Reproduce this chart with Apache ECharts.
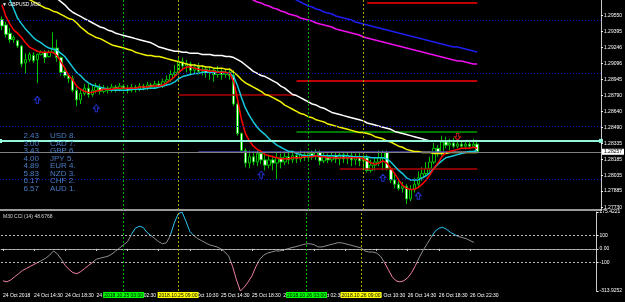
<!DOCTYPE html>
<html>
<head>
<meta charset="utf-8">
<style>
  html, body { margin: 0; padding: 0; background: #000; }
  #chart { width: 625px; height: 302px; }
</style>
<script src="https://cdn.jsdelivr.net/npm/echarts@6/dist/echarts.min.js"></script>
</head>
<body>
<div id="chart"></div>
<script>
// GBPUSD M30 with moving averages and a CCI(14) pane

var timeLabels = ['24 Oct 2018', '24 Oct 14:30', '24 Oct 18:30', '24 Oct 22:30', '25 Oct 02:30', '25 Oct 06:30',
  '25 Oct 10:30', '25 Oct 14:30', '25 Oct 18:30', '25 Oct 22:30', '26 Oct 02:30', '26 Oct 06:30',
  '26 Oct 10:30', '26 Oct 14:30', '26 Oct 18:30', '26 Oct 22:30'];

var opens = [1.2951,1.2946,1.2938,1.2932,1.2931,1.2926,1.2910,1.2913,1.2917,1.2913,
  1.2918,1.2920,1.2916,1.2920,1.2924,1.2915,1.2902,1.2898,1.2895,1.2884,
  1.2875,1.2881,1.2886,1.2880,1.2884,1.2887,1.2883,1.2886,1.2884,1.2887,
  1.2885,1.2888,1.2886,1.2884,1.2887,1.2885,1.2888,1.2886,1.2889,1.2887,
  1.2890,1.2888,1.2892,1.2894,1.2899,1.2901,1.2911,1.2907,1.2909,1.2903,
  1.2906,1.2902,1.2904,1.2901,1.2903,1.2899,1.2902,1.2899,1.2901,1.2898,
  1.2871,1.2843,1.2827,1.2815,1.2821,1.2816,1.2824,1.2818,1.2813,1.2818,
  1.2815,1.2820,1.2816,1.2821,1.2818,1.2822,1.2819,1.2823,1.2820,1.2824,
  1.2821,1.2825,1.2817,1.2821,1.2818,1.2822,1.2819,1.2823,1.2819,1.2822,
  1.2818,1.2821,1.2817,1.2820,1.2808,1.2813,1.2816,1.2820,1.2825,1.2810,
  1.2799,1.2795,1.2791,1.2793,1.2781,1.2790,1.2795,1.2801,1.2805,1.2810,
  1.2816,1.2829,1.2824,1.2835,1.2832,1.2834,1.2831,1.2833,1.2831,1.2833,
  1.2831,1.2833];
var closes = [1.2945,1.2937,1.2932,1.2934,1.2926,1.2909,1.2913,1.2918,1.2912,1.2918,
  1.2920,1.2915,1.2920,1.2924,1.2915,1.2901,1.2898,1.2895,1.2884,1.2875,
  1.2881,1.2886,1.2880,1.2884,1.2887,1.2883,1.2886,1.2884,1.2887,1.2885,
  1.2888,1.2886,1.2884,1.2887,1.2885,1.2888,1.2886,1.2889,1.2887,1.2890,
  1.2888,1.2892,1.2894,1.2899,1.2901,1.2911,1.2907,1.2909,1.2903,1.2906,
  1.2902,1.2904,1.2901,1.2903,1.2899,1.2902,1.2899,1.2901,1.2898,1.2871,
  1.2843,1.2827,1.2815,1.2821,1.2816,1.2824,1.2818,1.2813,1.2818,1.2815,
  1.2820,1.2816,1.2821,1.2818,1.2822,1.2819,1.2823,1.2820,1.2824,1.2821,
  1.2825,1.2817,1.2821,1.2818,1.2822,1.2819,1.2823,1.2819,1.2822,1.2818,
  1.2821,1.2817,1.2820,1.2808,1.2813,1.2816,1.2820,1.2825,1.2810,1.2799,
  1.2795,1.2791,1.2793,1.2781,1.2790,1.2795,1.2801,1.2805,1.2810,1.2816,
  1.2829,1.2824,1.2835,1.2832,1.2834,1.2831,1.2833,1.2831,1.2833,1.2831,
  1.2833,1.28257];
var lows = [1.2941,1.2934,1.2929,1.2929,1.2924,1.2906,1.2900,1.2911,1.2910,1.2891,
  1.2917,1.2910,1.2915,1.2919,1.2911,1.2898,1.2896,1.2891,1.2882,1.2869,
  1.2871,1.2879,1.2877,1.2878,1.2881,1.2880,1.2881,1.2881,1.2882,1.2882,
  1.2883,1.2883,1.2881,1.2882,1.2882,1.2883,1.2884,1.2884,1.2885,1.2885,
  1.2886,1.2886,1.2889,1.2892,1.2896,1.2899,1.2903,1.2901,1.2899,1.2900,
  1.2899,1.2898,1.2896,1.2894,1.2892,1.2896,1.2894,1.2896,1.2894,1.2869,
  1.2841,1.2826,1.2811,1.2810,1.2813,1.2812,1.2814,1.2808,1.2810,1.2808,
  1.2799,1.2810,1.2813,1.2814,1.2815,1.2815,1.2816,1.2817,1.2816,1.2818,
  1.2818,1.2813,1.2815,1.2815,1.2816,1.2815,1.2813,1.2815,1.2814,1.2812,
  1.2813,1.2812,1.2808,1.2806,1.2806,1.2808,1.2812,1.2808,1.2808,1.2796,
  1.2791,1.2789,1.2787,1.2776,1.2779,1.2787,1.2792,1.2798,1.2802,1.2807,
  1.2814,1.2821,1.2822,1.2829,1.2827,1.2829,1.2829,1.2829,1.2828,1.2829,
  1.2830,1.2825];
var highs = [1.2954,1.2949,1.2943,1.2936,1.2932,1.2927,1.2919,1.2920,1.2920,1.2919,
  1.2922,1.2922,1.2922,1.2939,1.2932,1.2916,1.2906,1.2899,1.2898,1.2887,
  1.2884,1.2890,1.2890,1.2888,1.2891,1.2890,1.2889,1.2888,1.2890,1.2889,
  1.2891,1.2890,1.2889,1.2890,1.2889,1.2891,1.2890,1.2892,1.2891,1.2893,
  1.2893,1.2895,1.2898,1.2903,1.2908,1.2916,1.2915,1.2913,1.2911,1.2909,
  1.2910,1.2908,1.2907,1.2906,1.2905,1.2907,1.2905,1.2904,1.2905,1.2903,
  1.2873,1.2844,1.2829,1.2827,1.2826,1.2827,1.2826,1.2823,1.2823,1.2822,
  1.2825,1.2824,1.2826,1.2825,1.2826,1.2825,1.2827,1.2826,1.2826,1.2827,
  1.2828,1.2827,1.2826,1.2824,1.2826,1.2825,1.2826,1.2826,1.2825,1.2826,
  1.2824,1.2826,1.2823,1.2823,1.2818,1.2820,1.2827,1.2827,1.2827,1.2812,
  1.2804,1.2801,1.2797,1.2795,1.2794,1.2801,1.2807,1.2811,1.2816,1.2821,
  1.2834,1.2832,1.2841,1.2840,1.2838,1.2839,1.2836,1.2836,1.2837,1.2836,
  1.2838,1.2837];

var maRed = [1.2965,1.2954,1.2947,1.2941,1.2938,1.2934,1.2929,1.2925,1.2923,1.2921,
  1.2920,1.2920,1.2920,1.2920,1.2917,1.2911,1.2905,1.2898,1.2894,1.2888,
  1.2885,1.2883,1.2882,1.2882,1.2883,1.2884,1.2885,1.2885,1.2885,1.2886,
  1.2886,1.2886,1.2886,1.2886,1.2886,1.2887,1.2887,1.2887,1.2888,1.2888,
  1.2888,1.2889,1.2891,1.2894,1.2897,1.2901,1.2904,1.2906,1.2906,1.2905,
  1.2904,1.2903,1.2903,1.2902,1.2902,1.2901,1.2901,1.2901,1.2900,1.2892,
  1.2875,1.2856,1.2843,1.2836,1.2831,1.2828,1.2826,1.2823,1.2822,1.2821,
  1.2820,1.2819,1.2819,1.2819,1.2820,1.2820,1.2820,1.2821,1.2821,1.2821,
  1.2822,1.2821,1.2821,1.2820,1.2820,1.2820,1.2820,1.2820,1.2820,1.2820,
  1.2820,1.2820,1.2819,1.2817,1.2815,1.2814,1.2815,1.2817,1.2815,1.2810,
  1.2805,1.2799,1.2794,1.2791,1.2790,1.2790,1.2792,1.2795,1.2799,1.2804,
  1.2810,1.2815,1.2821,1.2825,1.2826,1.2827,1.2828,1.2829,1.2829,1.2829,
  1.2830,1.2829];
var maAqua = [1.2987,1.2978,1.2970,1.2961,1.2952,1.2947,1.2942,1.2938,1.2934,1.2931,
  1.2929,1.2926,1.2924,1.2923,1.2922,1.2919,1.2916,1.2911,1.2906,1.2901,
  1.2898,1.2894,1.2891,1.2889,1.2888,1.2887,1.2886,1.2885,1.2884,1.2884,
  1.2884,1.2884,1.2884,1.2885,1.2885,1.2885,1.2885,1.2886,1.2886,1.2886,
  1.2887,1.2888,1.2889,1.2890,1.2892,1.2895,1.2897,1.2898,1.2899,1.2900,
  1.2900,1.2901,1.2901,1.2901,1.2901,1.2901,1.2901,1.2901,1.2900,1.2897,
  1.2888,1.2877,1.2867,1.2860,1.2854,1.2849,1.2845,1.2842,1.2838,1.2835,
  1.2832,1.2830,1.2828,1.2826,1.2826,1.2824,1.2823,1.2822,1.2822,1.2822,
  1.2822,1.2822,1.2822,1.2822,1.2822,1.2822,1.2822,1.2822,1.2822,1.2821,
  1.2821,1.2821,1.2821,1.2821,1.2820,1.2820,1.2820,1.2820,1.2819,1.2816,
  1.2812,1.2808,1.2805,1.2801,1.2799,1.2799,1.2799,1.2801,1.2803,1.2806,
  1.2810,1.2814,1.2817,1.2820,1.2821,1.2822,1.2823,1.2824,1.2825,1.2826,
  1.2826,1.2827];
var maYellow = [1.2979,1.2977,1.2975,1.2974,1.2973,1.2972,1.2971,1.2970,1.2968,1.2966,
  1.2964,1.2962,1.2961,1.2959,1.2958,1.2956,1.2954,1.2952,1.2951,1.2948,
  1.2944,1.2941,1.2938,1.2936,1.2934,1.2933,1.2931,1.2929,1.2927,1.2926,
  1.2925,1.2924,1.2923,1.2922,1.2920,1.2919,1.2918,1.2917,1.2917,1.2916,
  1.2916,1.2915,1.2914,1.2913,1.2912,1.2911,1.2910,1.2909,1.2908,1.2908,
  1.2907,1.2907,1.2906,1.2906,1.2905,1.2905,1.2905,1.2904,1.2904,1.2901,
  1.2898,1.2894,1.2891,1.2889,1.2887,1.2885,1.2883,1.2880,1.2879,1.2877,
  1.2875,1.2873,1.2870,1.2868,1.2866,1.2864,1.2862,1.2861,1.2859,1.2858,
  1.2856,1.2855,1.2854,1.2852,1.2851,1.2850,1.2849,1.2848,1.2847,1.2846,
  1.2845,1.2844,1.2844,1.2843,1.2842,1.2840,1.2839,1.2838,1.2836,1.2835,
  1.2833,1.2831,1.2830,1.2828,1.2827,1.2826,1.2826,1.2825,1.2825,1.2825,
  1.2824,1.2824,1.2824,1.2824,1.2825,1.2825,1.2825,1.2825,1.2825,1.2825,
  1.2825,1.2825];
// white MA is above the window before bar 14
var maWhiteStart = 14;
var maWhite = [1.2971,1.2968,1.2965,1.2961,1.2958,1.2956,1.2954,1.2952,1.2950,1.2948,
  1.2946,1.2944,1.2943,1.2941,1.2940,1.2938,1.2937,1.2936,1.2935,1.2934,
  1.2933,1.2932,1.2931,1.2930,1.2929,1.2927,1.2925,1.2924,1.2923,1.2922,
  1.2921,1.2921,1.2920,1.2920,1.2919,1.2919,1.2919,1.2918,1.2918,1.2918,
  1.2917,1.2917,1.2917,1.2916,1.2916,1.2915,1.2913,1.2911,1.2908,1.2905,
  1.2902,1.2900,1.2898,1.2897,1.2895,1.2893,1.2891,1.2888,1.2886,1.2883,
  1.2880,1.2879,1.2877,1.2875,1.2873,1.2871,1.2870,1.2868,1.2867,1.2865,
  1.2863,1.2862,1.2861,1.2860,1.2859,1.2858,1.2857,1.2856,1.2855,1.2853,
  1.2852,1.2851,1.2850,1.2849,1.2848,1.2847,1.2845,1.2844,1.2843,1.2842,
  1.2841,1.2840,1.2839,1.2838,1.2837,
  1.2836,1.2836,1.2836,1.2836,1.2836,1.2836,1.2836,1.2836,1.2836,1.2836,1.2836,1.2836,1.2836];
var maBlueStart = 74;
var maBlue = [1.29715,1.29696,1.29677,1.29658,1.29639,1.29630,1.29611,1.29601,1.29582,1.29573,
  1.29563,1.29544,1.29535,1.29525,1.29516,1.29506,1.29487,1.29478,1.29468,1.29459,
  1.29450,1.29440,1.29431,1.29421,1.29412,1.29402,1.29393,1.29383,1.29374,1.29364,
  1.29355,1.29345,1.29336,1.29326,1.29317,1.29307,1.29298,1.29288,1.29279,1.29269,
  1.29260,1.29250,1.29250,1.29241,1.29231,1.29222,1.29212,1.29203];
var maMagentaStart = 63;
var maMagenta = [1.29715,1.29696,1.29677,1.29668,1.29649,1.29639,1.29620,1.29611,1.29592,1.29582,
  1.29563,1.29554,1.29544,1.29525,1.29516,1.29506,1.29497,1.29478,1.29468,1.29459,
  1.29450,1.29440,1.29421,1.29412,1.29402,1.29393,1.29383,1.29374,1.29364,1.29345,
  1.29336,1.29326,1.29317,1.29307,1.29298,1.29288,1.29279,1.29269,1.29260,1.29250,
  1.29241,1.29231,1.29222,1.29212,1.29203,1.29194,1.29184,1.29175,1.29165,1.29156,
  1.29146,1.29137,1.29127,1.29118,1.29118,1.29108,1.29099,1.29089,1.29089];

var cci = [-238,-246,-231,-208,-185,-161,-146,-131,-115,-100,
  -85,-69,-46,-15,-38,-77,-123,-154,-177,-185,
  -169,-146,-123,-100,-77,-69,-62,-54,-38,-15,
  8,31,54,108,154,169,161,123,100,77,
  54,38,46,100,192,261,275.4221,208,131,100,
  77,62,46,31,23,15,0,-23,-54,-131,
  -231,-313.9252,-285,-246,-200,-131,-77,-46,-31,-23,
  -15,-15,-8,0,8,15,23,31,38,38,
  31,15,15,23,31,38,46,46,38,31,
  23,15,8,-15,-23,-23,-31,-54,-100,-154,
  -208,-238,-246,-238,-215,-177,-123,-62,-8,38,
  85,131,154,161,146,123,108,92,85,77,
  62,48.6768];

var priceTicks = [1.29550, 1.29395, 1.29246, 1.29096, 1.28945, 1.28790, 1.28640,
  1.28490, 1.28335, 1.28185, 1.28035, 1.27885, 1.27730];
var cciTicks = [275.4221, 100, 0, -100, -313.9252];
var cciTickText = ['275.4221', '100', '0.00', '-100', '-313.9252'];
var roundLevels = [1.2950, 1.2900, 1.2850, 1.2800];
var bid = 1.28257;
var handleLevel = 1.2836;
// [first bar, last bar, price]
var levelLines = [[93, 121, 1.2967], [75, 121, 1.28926], [45, 75, 1.28794], [75, 121, 1.2845], [50, 121, 1.28257], [86, 121, 1.2810]];
var levelColors = ['#ff0000', '#ff0000', '#b00000', '#007800', '#4848b8', '#b40000'];
var separators = [31, 45, 78, 92];
var separatorText = ['2018.10.25 03:00', '2018.10.25 09:00', '2018.10.26 03:00', '2018.10.26 09:00'];
var upArrows = [[9, 1.2875], [24, 1.2867], [66, 1.2804], [97, 1.2801], [106, 1.2784]];
var downArrows = [[116, 1.2840]];

var strengthVal = ['2.43', '3.00', '3.43', '4.00', '4.89', '5.83', '6.17', '6.57'];
var strengthCcy = ['USD', 'CAD', 'GBP', 'JPY', 'EUR', 'NZD', 'CHF', 'AUD'];
var strengthRank = [8, 7, 6, 5, 4, 3, 2, 1];

[opens, closes, lows, highs, maRed, maAqua, maYellow, cci].forEach(function (a, k) {
  if (a.length !== 122) throw new Error('array ' + k + ' has ' + a.length);
});
if (maWhiteStart + maWhite.length !== 122 || maBlueStart + maBlue.length !== 122 || maMagentaStart + maMagenta.length !== 122) {
  throw new Error('ma length');
}

var N = 153;
var FONT = 'Liberation Sans';
var cats = [];
for (var i = 0; i < N; i++) cats.push(String(i));

function padStart(start, arr) {
  var out = [];
  for (var j = 0; j < start; j++) out.push(null);
  return out.concat(arr);
}

var candles = opens.map(function (o, k) { return [o, closes[k], lows[k], highs[k]]; });

// round-number levels, period separators and the bid line sit behind the candles
var mainLines = [];
roundLevels.forEach(function (v) {
  mainLines.push({ yAxis: v, lineStyle: { color: '#1010c4', type: [1, 2], width: 1 } });
});
separators.forEach(function (s, k) {
  mainLines.push({ xAxis: s, lineStyle: { color: k % 2 ? '#a8a800' : '#00b400', type: [2, 2], width: 1 } });
});
mainLines.push({ yAxis: bid, lineStyle: { color: '#808080', type: 'solid', width: 1 },
  label: { show: true, position: 'end', formatter: bid.toFixed(5), backgroundColor: '#fff', color: '#000',
    fontSize: 5, fontFamily: FONT, padding: [1, 2, 0, 2], distance: 1 } });

// drawn level segments, as a lines series on the price grid
var segData = levelLines.map(function (l, k) {
  return {
    coords: [[l[0], l[2]], [l[1], l[2]]],
    lineStyle: { color: levelColors[k], width: k === 3 ? 2 : 1.6, opacity: 1 }
  };
});

var cciLines = [];
[100, 0, -100].forEach(function (v) {
  cciLines.push({ yAxis: v, lineStyle: { color: '#bdbdbd', type: [2, 2], width: 1 } });
});
separators.forEach(function (s, k) {
  cciLines.push({ xAxis: s, lineStyle: { color: k % 2 ? '#a8a800' : '#00b400', type: [2, 2], width: 1 },
    label: { show: true, position: 'start', formatter: separatorText[k], distance: 1,
      backgroundColor: k % 2 ? '#ffff00' : '#00ff00', color: '#000', fontSize: 5, fontFamily: FONT, padding: [1, 1, 0, 1] } });
});

var graphics = [
  { type: 'text', left: 2, top: 2, z: 100, style: { text: '\u25BC GBPUSD,M30', fill: '#fff', font: '5px ' + FONT } },
  { type: 'text', left: 3, top: 214, z: 100, style: { text: 'M30 CCI (14) 48.6768', fill: '#d8d8d8', font: '5px ' + FONT } }
];
strengthVal.forEach(function (v, k) {
  graphics.push({ type: 'text', x: 39, y: 136 + k * 7.5, z: 100,
    style: { text: v, fill: '#4a7cc4', font: '8px ' + FONT, align: 'right', verticalAlign: 'middle' } });
  graphics.push({ type: 'text', x: 50, y: 136 + k * 7.5, z: 100,
    style: { text: strengthCcy[k] + ' ' + strengthRank[k] + '.', fill: '#4a7cc4', font: '8px ' + FONT, align: 'left', verticalAlign: 'middle' } });
});

var arrowUp = 'path://M5,0 L10,5 L7,5 L7,10 L3,10 L3,5 L0,5 Z';
var arrowDown = 'path://M3,0 L7,0 L7,5 L10,5 L5,10 L0,5 L3,5 Z';

var chart = echarts.init(document.getElementById('chart'));
chart.setOption({
  backgroundColor: '#000',
  animation: false,
  graphic: graphics,
  grid: [
    { left: 0, top: 0, width: 604, height: 210 },
    { left: 0, top: 212, width: 604, height: 79 }
  ],
  xAxis: [
    { type: 'category', gridIndex: 0, data: cats, boundaryGap: true,
      axisLine: { show: true, lineStyle: { color: '#9a9a9a', width: 2 } },
      axisTick: { show: false }, axisLabel: { show: false }, splitLine: { show: false } },
    { type: 'category', gridIndex: 1, data: cats, boundaryGap: true,
      axisLine: { show: true, lineStyle: { color: '#9a9a9a', width: 1 } },
      axisTick: { show: true, alignWithLabel: true, length: 2, lineStyle: { color: '#ddd' },
        interval: function (idx) { return idx % 8 === 0 && idx / 8 < timeLabels.length; } },
      axisLabel: { interval: 0, align: 'left', fontSize: 5, color: '#fff', margin: 2, fontFamily: FONT,
        formatter: function (v, idx) { return idx % 8 === 0 && timeLabels[idx / 8] ? timeLabels[idx / 8] : ''; } },
      splitLine: { show: false } }
  ],
  yAxis: [
    { type: 'value', gridIndex: 0, position: 'right', min: 1.27705, max: 1.29696,
      splitLine: { show: false },
      axisLine: { show: true, lineStyle: { color: '#c8c8c8' } },
      axisTick: { show: true, customValues: priceTicks, length: 2, lineStyle: { color: '#fff' } },
      axisLabel: { customValues: priceTicks, fontSize: 5, color: '#fff', margin: 3, fontFamily: FONT,
        formatter: function (v) { return v.toFixed(5); } } },
    { type: 'value', gridIndex: 1, position: 'right', min: -313.9252, max: 275.4221,
      splitLine: { show: false },
      axisLine: { show: true, lineStyle: { color: '#c8c8c8' } },
      axisTick: { show: true, customValues: cciTicks, length: 2, lineStyle: { color: '#fff' } },
      axisLabel: { customValues: cciTicks, fontSize: 5, color: '#fff', margin: 3, fontFamily: FONT,
        formatter: function (v) { var k = cciTicks.indexOf(v); return k >= 0 ? cciTickText[k] : ''; } } }
  ],
  visualMap: [{
    type: 'piecewise', show: false, seriesIndex: 10, dimension: 1,
    pieces: [
      { lt: -100, color: '#f07fa6' },
      { gte: -100, lte: 100, color: '#8e8e8e' },
      { gt: 100, color: '#2ec6f2' }
    ]
  }],
  series: [
    { name: 'levels', type: 'lines', coordinateSystem: 'cartesian2d', xAxisIndex: 0, yAxisIndex: 0, z: 3,
      silent: true, data: segData, lineStyle: { opacity: 1, curveness: 0 } },
    { name: 'GBPUSD', type: 'candlestick', xAxisIndex: 0, yAxisIndex: 0, data: candles, barWidth: 3,
      itemStyle: { color: '#000', color0: '#fff', borderColor: '#00c000', borderColor0: '#00c000', borderWidth: 1 },
      markLine: { silent: true, symbol: 'none', precision: 5, animation: false, label: { show: false }, data: mainLines } },
    { name: 'MA white', type: 'line', xAxisIndex: 0, yAxisIndex: 0, data: padStart(maWhiteStart, maWhite),
      showSymbol: false, lineStyle: { color: '#ffffff', width: 1.5 },
      markLine: { silent: true, symbol: ['rect', 'rect'], symbolSize: 4, precision: 5, label: { show: false },
        lineStyle: { color: '#93f7dc', type: 'solid', width: 2 }, itemStyle: { color: '#93f7dc' },
        data: [{ yAxis: handleLevel }] } },
    { name: 'MA yellow', type: 'line', xAxisIndex: 0, yAxisIndex: 0, data: maYellow,
      showSymbol: false, lineStyle: { color: '#f2f200', width: 1.5 } },
    { name: 'MA blue', type: 'line', xAxisIndex: 0, yAxisIndex: 0, data: padStart(maBlueStart, maBlue),
      showSymbol: false, lineStyle: { color: '#1e1ef0', width: 1.5 } },
    { name: 'MA magenta', type: 'line', xAxisIndex: 0, yAxisIndex: 0, data: padStart(maMagentaStart, maMagenta),
      showSymbol: false, lineStyle: { color: '#ee10ee', width: 1.5 } },
    { name: 'MA aqua', type: 'line', xAxisIndex: 0, yAxisIndex: 0, data: maAqua,
      showSymbol: false, lineStyle: { color: '#16c8dc', width: 1.5 } },
    { name: 'MA red', type: 'line', xAxisIndex: 0, yAxisIndex: 0, data: maRed,
      showSymbol: false, lineStyle: { color: '#ff0000', width: 1.5 } },
    { name: 'up', type: 'scatter', xAxisIndex: 0, yAxisIndex: 0, data: upArrows, symbol: arrowUp,
      symbolSize: [6, 7], itemStyle: { color: 'rgba(0,0,0,0)', borderColor: '#2a3cff', borderWidth: 1 } },
    { name: 'down', type: 'scatter', xAxisIndex: 0, yAxisIndex: 0, data: downArrows, symbol: arrowDown,
      symbolSize: [6, 7], itemStyle: { color: 'rgba(0,0,0,0)', borderColor: '#ff2020', borderWidth: 1 } },
    { name: 'CCI', type: 'line', xAxisIndex: 1, yAxisIndex: 1, data: cci,
      showSymbol: false, lineStyle: { width: 1 },
      markLine: { silent: true, symbol: 'none', precision: 4, label: { show: false }, data: cciLines } }
  ]
});
</script>
</body>
</html>
